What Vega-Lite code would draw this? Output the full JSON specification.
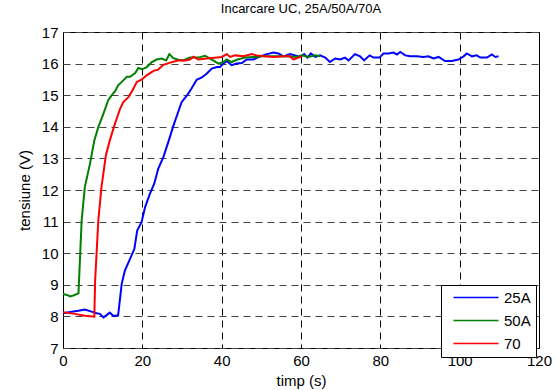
{
  "$schema": "https://vega.github.io/schema/vega-lite/v6.json",
  "width": 476,
  "height": 316,
  "autosize": {"type": "none"},
  "padding": {"left": 63, "top": 32, "right": 19, "bottom": 42},
  "background": "white",
  "title": {"text": "Incarcare UC, 25A/50A/70A", "fontSize": 13, "fontWeight": "normal", "font": "Liberation Sans", "color": "black", "offset": 9},
  "config": {
    "font": "Liberation Sans",
    "view": {"stroke": "black", "strokeWidth": 1}
  },
  "data": {"values": [
    {"s":"25A","t":0,"v":8.1},{"s":"25A","t":2.2,"v":8.15},{"s":"25A","t":3.9,"v":8.18},{"s":"25A","t":5.5,"v":8.22},{"s":"25A","t":7.2,"v":8.15},{"s":"25A","t":8.5,"v":8.1},{"s":"25A","t":9.3,"v":8.08},{"s":"25A","t":10.2,"v":7.97},{"s":"25A","t":11,"v":8.04},{"s":"25A","t":11.8,"v":8.12},{"s":"25A","t":12.7,"v":8.01},{"s":"25A","t":13.9,"v":8.04},{"s":"25A","t":14.8,"v":9.03},{"s":"25A","t":15.6,"v":9.45},{"s":"25A","t":16.9,"v":9.82},{"s":"25A","t":18,"v":10.14},{"s":"25A","t":18.7,"v":10.72},{"s":"25A","t":19.8,"v":10.98},{"s":"25A","t":20.7,"v":11.46},{"s":"25A","t":21.9,"v":11.88},{"s":"25A","t":23,"v":12.2},{"s":"25A","t":24,"v":12.67},{"s":"25A","t":25.3,"v":13.04},{"s":"25A","t":26.6,"v":13.54},{"s":"25A","t":27.8,"v":14.02},{"s":"25A","t":28.9,"v":14.42},{"s":"25A","t":29.9,"v":14.78},{"s":"25A","t":31.4,"v":15.02},{"s":"25A","t":32.4,"v":15.21},{"s":"25A","t":33.7,"v":15.49},{"s":"25A","t":35,"v":15.56},{"s":"25A","t":36.2,"v":15.68},{"s":"25A","t":37.5,"v":15.84},{"s":"25A","t":38.8,"v":15.89},{"s":"25A","t":39.6,"v":15.89},{"s":"25A","t":40.4,"v":16.0},{"s":"25A","t":41.3,"v":16.08},{"s":"25A","t":42.5,"v":15.95},{"s":"25A","t":43.8,"v":16.0},{"s":"25A","t":45.1,"v":16.02},{"s":"25A","t":46.3,"v":16.13},{"s":"25A","t":48,"v":16.13},{"s":"25A","t":49.7,"v":16.23},{"s":"25A","t":51.4,"v":16.3},{"s":"25A","t":53.1,"v":16.35},{"s":"25A","t":54.3,"v":16.32},{"s":"25A","t":55.6,"v":16.23},{"s":"25A","t":57.2,"v":16.3},{"s":"25A","t":58.5,"v":16.26},{"s":"25A","t":59.8,"v":16.21},{"s":"25A","t":60.8,"v":16.3},{"s":"25A","t":61.6,"v":16.19},{"s":"25A","t":62.5,"v":16.32},{"s":"25A","t":63.6,"v":16.21},{"s":"25A","t":64.8,"v":16.26},{"s":"25A","t":66.1,"v":16.19},{"s":"25A","t":67.3,"v":16.05},{"s":"25A","t":68.6,"v":16.16},{"s":"25A","t":69.9,"v":16.13},{"s":"25A","t":71.1,"v":16.19},{"s":"25A","t":72,"v":16.1},{"s":"25A","t":73.6,"v":16.3},{"s":"25A","t":74.9,"v":16.23},{"s":"25A","t":75.9,"v":16.1},{"s":"25A","t":77.3,"v":16.26},{"s":"25A","t":78.3,"v":16.19},{"s":"25A","t":79.8,"v":16.19},{"s":"25A","t":80.8,"v":16.32},{"s":"25A","t":82.1,"v":16.32},{"s":"25A","t":83.3,"v":16.35},{"s":"25A","t":84.2,"v":16.29},{"s":"25A","t":85,"v":16.37},{"s":"25A","t":86.3,"v":16.26},{"s":"25A","t":87.5,"v":16.23},{"s":"25A","t":89.2,"v":16.23},{"s":"25A","t":90.9,"v":16.21},{"s":"25A","t":92.1,"v":16.23},{"s":"25A","t":93.4,"v":16.16},{"s":"25A","t":94.7,"v":16.21},{"s":"25A","t":96.3,"v":16.08},{"s":"25A","t":98,"v":16.08},{"s":"25A","t":99.7,"v":16.13},{"s":"25A","t":101,"v":16.23},{"s":"25A","t":101.8,"v":16.32},{"s":"25A","t":103.1,"v":16.23},{"s":"25A","t":104.3,"v":16.26},{"s":"25A","t":105.2,"v":16.19},{"s":"25A","t":106.9,"v":16.19},{"s":"25A","t":108.1,"v":16.29},{"s":"25A","t":109,"v":16.21},{"s":"25A","t":109.8,"v":16.23},
    {"s":"50A","t":0,"v":8.71},{"s":"50A","t":1,"v":8.68},{"s":"50A","t":1.8,"v":8.63},{"s":"50A","t":2.6,"v":8.66},{"s":"50A","t":3.9,"v":8.73},{"s":"50A","t":4.7,"v":11.03},{"s":"50A","t":5.5,"v":12.09},{"s":"50A","t":6.8,"v":12.83},{"s":"50A","t":7.9,"v":13.57},{"s":"50A","t":8.9,"v":13.99},{"s":"50A","t":10.2,"v":14.42},{"s":"50A","t":11.4,"v":14.84},{"s":"50A","t":12.3,"v":15.0},{"s":"50A","t":13.1,"v":15.12},{"s":"50A","t":13.9,"v":15.31},{"s":"50A","t":15.2,"v":15.47},{"s":"50A","t":16.1,"v":15.58},{"s":"50A","t":16.9,"v":15.58},{"s":"50A","t":18.2,"v":15.7},{"s":"50A","t":19,"v":15.86},{"s":"50A","t":20,"v":15.82},{"s":"50A","t":21.1,"v":15.89},{"s":"50A","t":22.4,"v":16.05},{"s":"50A","t":23.6,"v":16.13},{"s":"50A","t":24.9,"v":16.16},{"s":"50A","t":26,"v":16.1},{"s":"50A","t":26.8,"v":16.3},{"s":"50A","t":27.8,"v":16.17},{"s":"50A","t":29.1,"v":16.12},{"s":"50A","t":30.3,"v":16.1},{"s":"50A","t":32,"v":16.19},{"s":"50A","t":34.1,"v":16.19},{"s":"50A","t":35.8,"v":16.25},{"s":"50A","t":37.1,"v":16.16},{"s":"50A","t":39.2,"v":16.0},{"s":"50A","t":40.4,"v":16.05},{"s":"50A","t":41.3,"v":16.13},{"s":"50A","t":42.5,"v":16.05},{"s":"50A","t":44,"v":16.13},{"s":"50A","t":45.9,"v":16.19},{"s":"50A","t":48,"v":16.21},{"s":"50A","t":50.5,"v":16.23},{"s":"50A","t":53.9,"v":16.23},{"s":"50A","t":56.4,"v":16.23},{"s":"50A","t":58.9,"v":16.21},{"s":"50A","t":60.2,"v":16.26},{"s":"50A","t":61.9,"v":16.21},{"s":"50A","t":63.6,"v":16.26},{"s":"50A","t":64.8,"v":16.23},
    {"s":"70","t":0,"v":8.13},{"s":"70","t":3,"v":8.08},{"s":"70","t":5.5,"v":8.02},{"s":"70","t":7.9,"v":7.99},{"s":"70","t":8.1,"v":9.13},{"s":"70","t":8.9,"v":11.03},{"s":"70","t":9.7,"v":12.09},{"s":"70","t":10.8,"v":13.09},{"s":"70","t":11.8,"v":13.57},{"s":"70","t":13.1,"v":14.1},{"s":"70","t":14.4,"v":14.57},{"s":"70","t":15.2,"v":14.78},{"s":"70","t":16.5,"v":14.94},{"s":"70","t":17.5,"v":15.15},{"s":"70","t":18.6,"v":15.42},{"s":"70","t":19.8,"v":15.49},{"s":"70","t":21.1,"v":15.63},{"s":"70","t":22.8,"v":15.77},{"s":"70","t":24,"v":15.81},{"s":"70","t":25.3,"v":15.96},{"s":"70","t":27,"v":16.03},{"s":"70","t":29,"v":16.1},{"s":"70","t":30.8,"v":16.1},{"s":"70","t":32,"v":16.13},{"s":"70","t":32.9,"v":16.22},{"s":"70","t":34.1,"v":16.13},{"s":"70","t":36.2,"v":16.16},{"s":"70","t":38.8,"v":16.19},{"s":"70","t":40,"v":16.21},{"s":"70","t":41.3,"v":16.3},{"s":"70","t":42.1,"v":16.21},{"s":"70","t":43.4,"v":16.26},{"s":"70","t":45.5,"v":16.23},{"s":"70","t":47.6,"v":16.3},{"s":"70","t":48.8,"v":16.26},{"s":"70","t":50.9,"v":16.23},{"s":"70","t":53.1,"v":16.21},{"s":"70","t":55.6,"v":16.23},{"s":"70","t":57.2,"v":16.23},{"s":"70","t":58.1,"v":16.13},{"s":"70","t":59.4,"v":16.19},{"s":"70","t":60.2,"v":16.23}
  ]},
  "mark": {"type": "line", "strokeWidth": 2, "clip": true},
  "encoding": {
    "x": {
      "field": "t", "type": "quantitative",
      "scale": {"domain": [0, 120], "nice": false, "zero": false},
      "axis": {
        "title": "timp (s)", "values": [0, 20, 40, 60, 80, 100, 120],
        "titleFontSize": 15, "titleFontWeight": "normal", "titleColor": "black", "titlePadding": 5,
        "labelFontSize": 15, "labelColor": "black", "labelPadding": 5, "labelFlush": false,
        "ticks": false, "domain": false,
        "grid": true, "gridColor": "black", "gridDash": [7, 5], "gridWidth": 1, "gridOpacity": 1
      }
    },
    "y": {
      "field": "v", "type": "quantitative",
      "scale": {"domain": [7, 17], "nice": false, "zero": false},
      "axis": {
        "title": "tensiune (V)", "values": [7, 8, 9, 10, 11, 12, 13, 14, 15, 16, 17],
        "titleFontSize": 15, "titleFontWeight": "normal", "titleColor": "black", "titlePadding": 9,
        "labelFontSize": 15, "labelColor": "black", "labelPadding": 5, "labelFlush": false,
        "ticks": false, "domain": false,
        "grid": true, "gridColor": "#444", "gridDash": [7, 5], "gridWidth": 1, "gridOpacity": 1
      }
    },
    "color": {
      "field": "s", "type": "nominal", "sort": ["25A", "50A", "70"],
      "scale": {"domain": ["25A", "50A", "70"], "range": ["#0000ff", "#008000", "#ff0000"]},
      "legend": {
        "title": null, "orient": "none", "legendX": 378, "legendY": 253,
        "direction": "vertical",
        "fillColor": "white", "strokeColor": "black", "padding": 5,
        "symbolType": "M0,0H9", "symbolSize": 100, "symbolStrokeWidth": 1.5,
        "labelFontSize": 15, "labelColor": "black", "labelOffset": 43,
        "rowPadding": 7
      }
    }
  }
}
